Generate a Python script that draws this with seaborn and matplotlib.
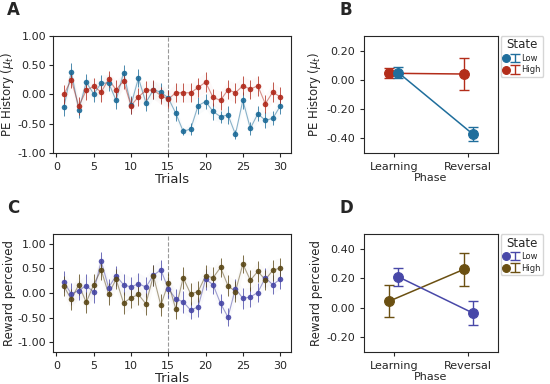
import numpy as np
import pandas as pd
import matplotlib
matplotlib.use("Agg")
import matplotlib.pyplot as plt
from matplotlib.ticker import FormatStrFormatter
from matplotlib.legend_handler import HandlerTuple
import seaborn as sns

# ---- data ----
trials = list(range(1, 31))

pe_low = [-0.22, 0.39, -0.27, 0.21, 0.01, 0.19, 0.20, -0.10, 0.37, -0.18,
          0.28, -0.14, 0.08, 0.04, -0.06, -0.32, -0.63, -0.59, -0.19, -0.12,
          -0.29, -0.38, -0.35, -0.68, -0.10, -0.58, -0.33, -0.44, -0.41, -0.20]
pe_low_err = [0.15, 0.14, 0.13, 0.14, 0.14, 0.15, 0.14, 0.15, 0.14, 0.15,
              0.15, 0.15, 0.15, 0.16, 0.14, 0.13, 0.06, 0.10, 0.15, 0.13,
              0.14, 0.10, 0.15, 0.08, 0.14, 0.11, 0.13, 0.14, 0.12, 0.14]
pe_high = [0.00, 0.25, -0.20, 0.07, 0.14, 0.04, 0.26, 0.08, 0.23, -0.19,
           -0.04, 0.07, 0.08, -0.02, -0.08, 0.03, 0.03, 0.03, 0.12, 0.21,
           -0.05, -0.10, 0.08, 0.03, 0.15, 0.09, 0.15, -0.16, 0.04, -0.04]
pe_high_err = [0.16, 0.14, 0.15, 0.16, 0.15, 0.17, 0.14, 0.16, 0.14, 0.15,
               0.15, 0.16, 0.16, 0.15, 0.15, 0.16, 0.16, 0.16, 0.16, 0.17,
               0.15, 0.16, 0.16, 0.17, 0.16, 0.16, 0.17, 0.15, 0.17, 0.16]

rw_low = [0.23, -0.02, 0.05, 0.15, 0.02, 0.65, 0.11, 0.35, 0.17, 0.12,
          0.19, 0.12, 0.36, 0.47, 0.09, -0.12, -0.18, -0.35, -0.28, 0.28,
          0.17, -0.21, -0.49, 0.09, -0.11, -0.08, 0.01, 0.31, 0.17, 0.28]
rw_low_err = [0.21, 0.22, 0.20, 0.23, 0.22, 0.19, 0.18, 0.20, 0.22, 0.20,
              0.22, 0.21, 0.21, 0.20, 0.20, 0.20, 0.22, 0.17, 0.20, 0.21,
              0.20, 0.19, 0.18, 0.20, 0.21, 0.20, 0.20, 0.19, 0.20, 0.19]
rw_high = [0.14, -0.13, 0.17, -0.19, 0.17, 0.47, -0.02, 0.28, -0.20, -0.10,
           -0.03, -0.22, 0.35, -0.25, 0.20, -0.32, 0.31, -0.02, 0.03, 0.35,
           0.31, 0.52, 0.15, 0.03, 0.59, 0.26, 0.44, 0.27, 0.46, 0.51]
rw_high_err = [0.20, 0.22, 0.22, 0.21, 0.22, 0.20, 0.22, 0.20, 0.22, 0.21,
               0.21, 0.22, 0.21, 0.22, 0.21, 0.21, 0.22, 0.22, 0.22, 0.22,
               0.21, 0.19, 0.21, 0.22, 0.19, 0.21, 0.21, 0.20, 0.21, 0.21]

phases = ["Learning", "Reversal"]
pe_phase_low = [0.05, -0.37]
pe_phase_low_err = [0.04, 0.05]
pe_phase_high = [0.045, 0.04]
pe_phase_high_err = [0.035, 0.11]

rw_phase_low = [0.21, -0.035]
rw_phase_low_err = [0.06, 0.08]
rw_phase_high = [0.045, 0.26]
rw_phase_high_err = [0.11, 0.11]

sns.set_style("ticks")
plt.rcParams["font.family"] = ["DejaVu Sans"]
plt.rcParams["axes.unicode_minus"] = False

fig = plt.figure(figsize=(5.5, 3.84), dpi=100)
axA = fig.add_axes([0.0964, 0.6016, 0.4327, 0.3047])
axB = fig.add_axes([0.6618, 0.6016, 0.2436, 0.3047])
axC = fig.add_axes([0.0964, 0.0833, 0.4327, 0.3073])
axD = fig.add_axes([0.6618, 0.0833, 0.2436, 0.3073])


def trial_panel(ax, low, low_err, high, high_err, c_low, c_high, ylabel, ylim, yticks):
    df = pd.DataFrame({
        "Trial": trials * 2,
        "value": low + high,
        "State": ["Low"] * len(trials) + ["High"] * len(trials),
    })
    sns.lineplot(data=df, x="Trial", y="value", hue="State",
                 palette={"Low": c_low, "High": c_high},
                 linewidth=0.8, legend=False, ax=ax)
    for line in ax.lines:
        line.set_alpha(0.5)
    for vals, errs, c in [(low, low_err, c_low), (high, high_err, c_high)]:
        ax.errorbar(trials, vals, yerr=errs, fmt="o", ms=4, mew=0,
                    color=c, ecolor=c, elinewidth=0.6, capsize=2,
                    capthick=0.8, alpha=0.9, zorder=3)
        ax.fill_between(trials, np.array(vals) - np.array(errs),
                        np.array(vals) + np.array(errs), color=c,
                        alpha=0.025, lw=0)
    ax.axvline(15, color="gray", ls="--", lw=0.8, alpha=0.8)
    ax.set_ylim(*ylim)
    ax.set_yticks(yticks)
    ax.set_xticks(range(0, 31, 5))
    ax.yaxis.set_major_formatter(FormatStrFormatter("%.2f"))
    ax.set_xlabel("Trials", fontsize=9.5, labelpad=1)
    ax.set_ylabel(ylabel, fontsize=8.5, labelpad=1)
    ax.tick_params(labelsize=8, length=3)
    ax.tick_params(axis="y", pad=2)


def phase_panel(ax, low, low_err, high, high_err, c_low, c_high, ylabel, ylim, yticks):
    df = pd.DataFrame({
        "Phase": phases * 2,
        "value": low + high,
        "State": ["Low"] * 2 + ["High"] * 2,
    })
    sns.pointplot(data=df, x="Phase", y="value", hue="State",
                  hue_order=["High", "Low"],
                  palette={"Low": c_low, "High": c_high},
                  dodge=0.12, errorbar=None, markersize=7, linewidth=1.1,
                  legend=False, ax=ax)
    lines = list(ax.lines)
    handles = {}
    for line, name, vals, errs, c in [(lines[0], "High", high, high_err, c_high),
                                      (lines[1], "Low", low, low_err, c_low)]:
        x = line.get_xdata()
        eb = ax.errorbar(x, vals, yerr=errs, fmt="none", ecolor=c,
                         elinewidth=1.0, capsize=3.5, capthick=1.0, zorder=1)
        handles[name] = (line, eb)
    ax.set_xlim(-0.4, 1.4)
    ax.set_ylim(*ylim)
    ax.set_yticks(yticks)
    ax.yaxis.set_major_formatter(FormatStrFormatter("%.2f"))
    ax.set_xlabel("Phase", fontsize=8, labelpad=1)
    ax.set_ylabel(ylabel, fontsize=8.5, labelpad=2)
    ax.tick_params(labelsize=8, length=3)
    ax.legend([handles["Low"], handles["High"]], ["Low", "High"],
              handler_map={tuple: HandlerTuple(ndivide=None)},
              title="State", loc="upper left", bbox_to_anchor=(1.02, 1.0),
              fontsize=6, title_fontsize=8.5, borderaxespad=0,
              handlelength=1.8, borderpad=0.3, labelspacing=0.3,
              handletextpad=0.4, markerscale=0.8, frameon=True)


trial_panel(axA, pe_low, pe_low_err, pe_high, pe_high_err, "#1b6a97", "#b0281a",
            r"PE History ($\mu_t$)", (-1.0, 1.0), [-1.0, -0.5, 0.0, 0.5, 1.0])
phase_panel(axB, pe_phase_low, pe_phase_low_err, pe_phase_high, pe_phase_high_err,
            "#1f6e9c", "#b32d1a", r"PE History ($\mu_t$)", (-0.5, 0.3),
            [-0.4, -0.2, 0.0, 0.2])
trial_panel(axC, rw_low, rw_low_err, rw_high, rw_high_err, "#4646a6", "#5a4716",
            "Reward perceived", (-1.2, 1.2), [-1.0, -0.5, 0.0, 0.5, 1.0])
phase_panel(axD, rw_phase_low, rw_phase_low_err, rw_phase_high, rw_phase_high_err,
            "#4848a8", "#6b5012", "Reward perceived", (-0.3, 0.5),
            [-0.2, 0.0, 0.2, 0.4])

for label, x, y in [("A", 0.013, 0.974), ("B", 0.617, 0.974),
                    ("C", 0.013, 0.458), ("D", 0.617, 0.458)]:
    fig.text(x, y, label, fontsize=12, fontweight="bold", va="center")

fig.savefig("out.png", dpi=100)
